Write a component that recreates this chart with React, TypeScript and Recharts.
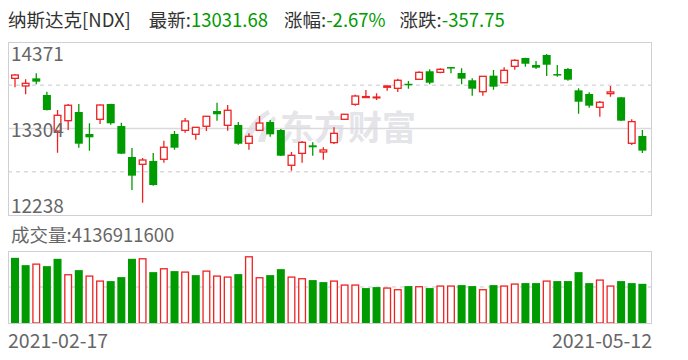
import { ComposedChart, Bar, XAxis, YAxis, CartesianGrid } from "recharts";

// 纳斯达克100 日K线 2021-02-17 ~ 2021-05-12
const dates = [
  "2021-02-17", "2021-02-18", "2021-02-19", "2021-02-22", "2021-02-23", "2021-02-24", "2021-02-25", "2021-02-26",
  "2021-03-01", "2021-03-02", "2021-03-03", "2021-03-04", "2021-03-05",
  "2021-03-08", "2021-03-09", "2021-03-10", "2021-03-11", "2021-03-12",
  "2021-03-15", "2021-03-16", "2021-03-17", "2021-03-18", "2021-03-19",
  "2021-03-22", "2021-03-23", "2021-03-24", "2021-03-25", "2021-03-26",
  "2021-03-29", "2021-03-30", "2021-03-31", "2021-04-01",
  "2021-04-05", "2021-04-06", "2021-04-07", "2021-04-08", "2021-04-09",
  "2021-04-12", "2021-04-13", "2021-04-14", "2021-04-15", "2021-04-16",
  "2021-04-19", "2021-04-20", "2021-04-21", "2021-04-22", "2021-04-23",
  "2021-04-26", "2021-04-27", "2021-04-28", "2021-04-29", "2021-04-30",
  "2021-05-03", "2021-05-04", "2021-05-05", "2021-05-06", "2021-05-07",
  "2021-05-10", "2021-05-11", "2021-05-12",
];
const opens = [
  13923, 13829, 13923, 13718, 13274, 13401, 13508, 13237, 13418, 13607,
  13335, 12953, 12863, 12904, 12925, 13237, 13282, 13233, 13332, 13520,
  13344, 13348, 13122, 13282, 13385, 13286, 12851, 12998, 13097, 13015,
  13130, 13418, 13603, 13686, 13686, 13813, 13800, 13856, 13911, 14010,
  13997, 14062, 13989, 13899, 13758, 13956, 13869, 14071, 14174, 14087,
  14211, 13976, 14038, 13775, 13730, 13566, 13734, 13689, 13122, 13212,
];
const highs = [
  13976, 13911, 13985, 13758, 13533, 13607, 13607, 13369, 13600, 13610,
  13376, 13064, 12941, 13002, 13154, 13274, 13434, 13322, 13458, 13623,
  13594, 13385, 13245, 13459, 13409, 13298, 13015, 13150, 13134, 13073,
  13319, 13483, 13721, 13779, 13738, 13832, 13919, 13890, 14010, 14034,
  14047, 14062, 14047, 13924, 13951, 14026, 14059, 14158, 14177, 14137,
  14223, 14087, 14050, 13800, 13751, 13644, 13829, 13692, 13418, 13286,
];
const lows = [
  13812, 13726, 13849, 13525, 13006, 13286, 13068, 13031, 13360, 13351,
  12990, 12546, 12390, 12599, 12883, 13043, 13253, 13167, 13274, 13401,
  13277, 13105, 13043, 13280, 13203, 12966, 12784, 12883, 12969, 12920,
  13113, 13415, 13586, 13684, 13656, 13771, 13755, 13795, 13908, 13849,
  13985, 13985, 13849, 13709, 13709, 13783, 13866, 14029, 14066, 14038,
  13952, 13943, 13894, 13487, 13561, 13450, 13697, 13398, 13101, 13002,
];
const closes = [
  13964, 13862, 13882, 13533, 13467, 13591, 13117, 13196, 13594, 13369,
  12994, 12723, 12916, 12608, 13073, 13068, 13397, 13319, 13455, 13480,
  13529, 13117, 13208, 13372, 13233, 12969, 12974, 13134, 13073, 13040,
  13245, 13480, 13705, 13698, 13692, 13829, 13899, 13850, 13997, 13869,
  14034, 14057, 13919, 13795, 13948, 13820, 14022, 14145, 14103, 14054,
  14091, 13970, 13906, 13635, 13586, 13628, 13755, 13401, 13389.43, 13031.68,
];
// 成交量(百万)
const volumes = [
  6879, 6107, 6283, 6002, 6774, 5160, 5581, 5019, 4493, 4423,
  4844, 6774, 6845, 5370, 5792, 5476, 5441, 5054, 5546, 5019,
  4914, 5160, 7055, 4844, 5054, 5686, 4914, 4739, 4528, 4317,
  4493, 4072, 4072, 3686, 3791, 3756, 3580, 3896, 3896, 3686,
  3966, 3966, 4001, 3896, 3580, 4001, 3966, 4177, 4212, 4212,
  4493, 4423, 4423, 5370, 4212, 4598, 3966, 4423, 4212, 4137,
];
const prevClose = 13990;
const priceTicks = [12238, 13304.5, 14371];
const volMax = 7600;

const latest = "13031.68";
const pctChange = "-2.67%";
const change = "-357.75";
const latestVolume = "4136911600";

const RED = "#ee2222";
const GREEN = "#009b00";
const GRID = "#dadade";
const BORDER = "#cfcfd4";
const LABEL = "#666";
const FONT = '"Noto Sans CJK SC", "Noto Sans", sans-serif';

const data = dates.map((d, i) => ({
  date: d,
  open: opens[i],
  high: highs[i],
  low: lows[i],
  close: closes[i],
  range: [lows[i], highs[i]],
  vol: volumes[i],
  volUp: closes[i] >= (i === 0 ? prevClose : closes[i - 1]),
}));

function Candle(props: any) {
  const { x, y, width, height, payload } = props;
  if (x == null || payload == null) return null;
  const top = Math.min(y, y + height);
  const h = Math.abs(height);
  const { open, close, high, low } = payload;
  const py = (v: number) => top + ((high - v) / (high - low || 1)) * h;
  const cx = x + width / 2;
  const bTop = py(Math.max(open, close));
  const bBot = py(Math.min(open, close));
  if (close >= open) {
    return (
      <g>
        <line x1={cx} x2={cx} y1={py(high)} y2={bTop} stroke={RED} strokeWidth={1.3} />
        <line x1={cx} x2={cx} y1={bBot} y2={py(low)} stroke={RED} strokeWidth={1.3} />
        <rect x={x + 0.65} y={bTop} width={width - 1.3} height={Math.max(bBot - bTop, 0.8)} fill="#fff" stroke={RED} strokeWidth={1.3} />
      </g>
    );
  }
  return (
    <g>
      <line x1={cx} x2={cx} y1={py(high)} y2={py(low)} stroke={GREEN} strokeWidth={1.3} />
      <rect x={x} y={bTop} width={width} height={Math.max(bBot - bTop, 1.5)} fill={GREEN} />
    </g>
  );
}

function VolBar(props: any) {
  const { x, y, width, height, payload } = props;
  if (x == null || payload == null) return null;
  if (payload.volUp) {
    return <rect x={x + 0.65} y={y + 0.65} width={width - 1.3} height={height - 0.65} fill="#fff" stroke={RED} strokeWidth={1.3} />;
  }
  return <rect x={x} y={y} width={width} height={height} fill={GREEN} />;
}

function PriceTick(props: any) {
  const { y, payload } = props;
  const v = payload.value;
  const dy = v === priceTicks[2] ? 18.5 : v === priceTicks[0] ? -2 : 8;
  return (
    <text x={11} y={y + dy} fill={LABEL} fontSize={19} fontFamily={FONT} textAnchor="start">
      {Math.floor(v)}
    </text>
  );
}

export default function App() {
  const lo = priceTicks[0];
  const hi = priceTicks[2];
  const q = (hi - lo) / 4;
  const box = (top: number, height: number) => (
    <div
      style={{
        position: "absolute",
        left: 8,
        top,
        width: 644,
        height,
        border: `1px solid ${BORDER}`,
        boxSizing: "border-box",
        pointerEvents: "none",
      }}
    />
  );

  return (
    <div style={{ position: "absolute", left: 0, top: 0, width: 688, height: 360, background: "#fff", fontFamily: FONT, overflow: "hidden" }}>
      <div style={{ position: "absolute", left: 8, top: 7, fontSize: 18.5, lineHeight: "24px", color: "#333", whiteSpace: "nowrap" }}>
        <span style={{ marginRight: 18 }}>纳斯达克[NDX]</span>
        <span>最新:</span>
        <span style={{ color: GREEN, marginRight: 16 }}>{latest}</span>
        <span>涨幅:</span>
        <span style={{ color: GREEN, marginRight: 14 }}>{pctChange}</span>
        <span>涨跌:</span>
        <span style={{ color: GREEN }}>{change}</span>
      </div>

      {/* 水印 */}
      <div style={{ position: "absolute", left: 238, top: 104, display: "flex", alignItems: "center", color: "#e4e4e9", fontWeight: 700, fontSize: 34, lineHeight: "44px" }}>
        <svg width={40} height={36} style={{ marginRight: 2 }}>
          <path d="M30 2 C18 8 8 20 4 34 L12 34 C16 22 22 12 32 6 Z" fill="#e4e4e9" />
          <path d="M36 8 C28 14 22 24 20 34 L27 34 C29 24 33 16 38 12 Z" fill="#e4e4e9" />
        </svg>
        <span>东方财富</span>
      </div>

      <div style={{ position: "absolute", left: 0, top: 0 }}>
        <ComposedChart width={688} height={230} data={data} margin={{ top: 42, right: 37, bottom: 15, left: 8 }}>
          <CartesianGrid vertical={false} horizontalValues={[lo + q, hi - q]} stroke={GRID} strokeDasharray="4 4" strokeWidth={1.3} />
          <CartesianGrid vertical={false} horizontalValues={[lo + 2 * q]} stroke={GRID} strokeWidth={1.5} />
          <XAxis dataKey="date" hide padding={{ left: 2, right: 3 }} />
          <YAxis
            type="number"
            domain={[lo, hi]}
            allowDataOverflow
            mirror
            axisLine={false}
            tickLine={false}
            ticks={priceTicks}
            interval={0}
            tick={<PriceTick />}
          />
          <Bar dataKey="range" barSize={8} shape={<Candle />} isAnimationActive={false} />
        </ComposedChart>
      </div>

      <div style={{ position: "absolute", left: 11, top: 222, fontSize: 18.5, lineHeight: "24px", color: LABEL, whiteSpace: "nowrap" }}>
        成交量:{latestVolume}
      </div>

      <div style={{ position: "absolute", left: 0, top: 240 }}>
        <ComposedChart width={688} height={100} data={data} margin={{ top: 11, right: 37, bottom: 17, left: 8 }}>
          <CartesianGrid vertical={false} horizontalValues={[volMax / 2]} stroke={GRID} strokeDasharray="4 4" strokeWidth={1.3} />
          <XAxis dataKey="date" hide padding={{ left: 2, right: 3 }} />
          <YAxis type="number" hide domain={[0, volMax]} allowDataOverflow />
          <Bar dataKey="vol" barSize={8} shape={<VolBar />} isAnimationActive={false} />
        </ComposedChart>
      </div>

      {box(42, 174)}
      {box(251, 73)}

      <div style={{ position: "absolute", left: 8, top: 328, fontSize: 19.5, lineHeight: "24px", color: LABEL }}>{dates[0]}</div>
      <div style={{ position: "absolute", right: 688 - 652, top: 328, fontSize: 19.5, lineHeight: "24px", color: LABEL }}>
        {dates[dates.length - 1]}
      </div>
    </div>
  );
}
